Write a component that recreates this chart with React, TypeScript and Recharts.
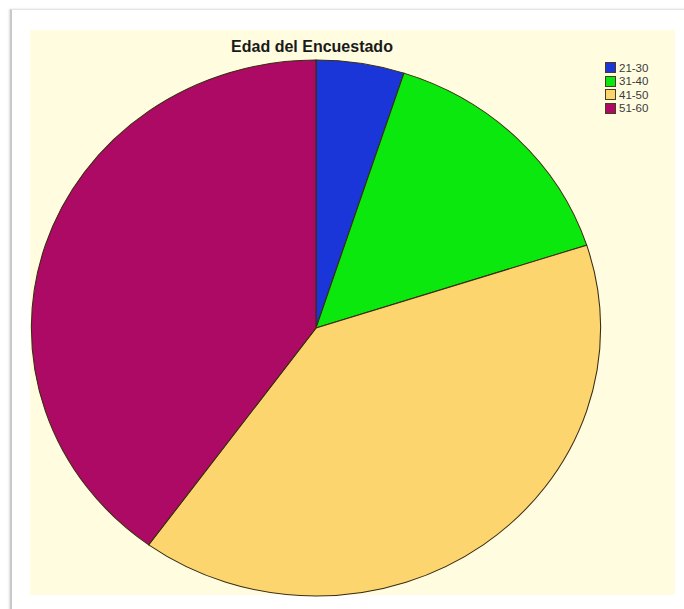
import React from "react";
import { PieChart, Pie, Cell, Legend } from "recharts";

const ageGroups = ["21-30", "31-40", "41-50", "51-60"];
const counts = [2, 6, 16, 16];
const sliceColors = ["#1a36d8", "#0ae80e", "#fdd56f", "#ac0a64"];

const chartData = ageGroups.map((name, i) => ({ name, value: counts[i] }));

function LegendBox(props: any) {
  const { payload } = props;
  return (
    <div style={{ fontFamily: "Liberation Sans, Arial, sans-serif", fontSize: 11.5, color: "#3a3a3a" }}>
      {(payload || []).map((entry: any, i: number) => (
        <div key={`leg-${i}`} style={{ display: "flex", alignItems: "center", height: 13.5 }}>
          <span
            style={{
              display: "inline-block",
              width: 11,
              height: 11,
              background: entry.color,
              border: "1px solid #4a3a20",
              marginRight: 3,
              boxSizing: "border-box",
            }}
          />
          <span>{entry.value}</span>
        </div>
      ))}
    </div>
  );
}

export default function App() {
  return (
    <div style={{ position: "absolute", left: 0, top: 0, width: 684, height: 609, background: "#fff", overflow: "hidden" }}>
      <style>{`
        .recharts-pie { transform-box: view-box; transform-origin: 316px 328px; transform: scaleX(1.062); }
      `}</style>
      {/* frame */}
      <div
        style={{
          position: "absolute",
          left: 10,
          top: 9,
          width: 680,
          height: 610,
          borderLeft: "2px solid #c8c8c8",
          borderTop: "1px solid #e4e4e4",
          boxShadow: "-1px 0 2px #ddd",
        }}
      />
      <div style={{ position: "absolute", left: 30, top: 30, width: 645, height: 565, background: "#fffce0" }} />
      <div style={{ position: "absolute", left: 0, top: 0 }}>
        <PieChart width={684} height={609} margin={{ top: 0, right: 0, bottom: 0, left: 0 }}>
          <text
            x={312}
            y={52}
            textAnchor="middle"
            style={{ fontFamily: "Liberation Sans, Arial, sans-serif", fontSize: 16, fontWeight: 700, fill: "#1a1a1a" }}
          >
            Edad del Encuestado
          </text>
          <Pie
            data={chartData}
            dataKey="value"
            nameKey="name"
            cx={316}
            cy={328}
            outerRadius={268}
            startAngle={90}
            endAngle={-270}
            stroke="#3a2c10"
            strokeWidth={1}
            isAnimationActive={false}
          >
            {chartData.map((entry, i) => (
              <Cell key={`cell-${i}`} fill={sliceColors[i]} />
            ))}
          </Pie>
          <Legend
            layout="vertical"
            verticalAlign="top"
            align="right"
            content={<LegendBox />}
            wrapperStyle={{ position: "absolute", left: 605, top: 61, width: 60 }}
          />
        </PieChart>
      </div>
    </div>
  );
}
